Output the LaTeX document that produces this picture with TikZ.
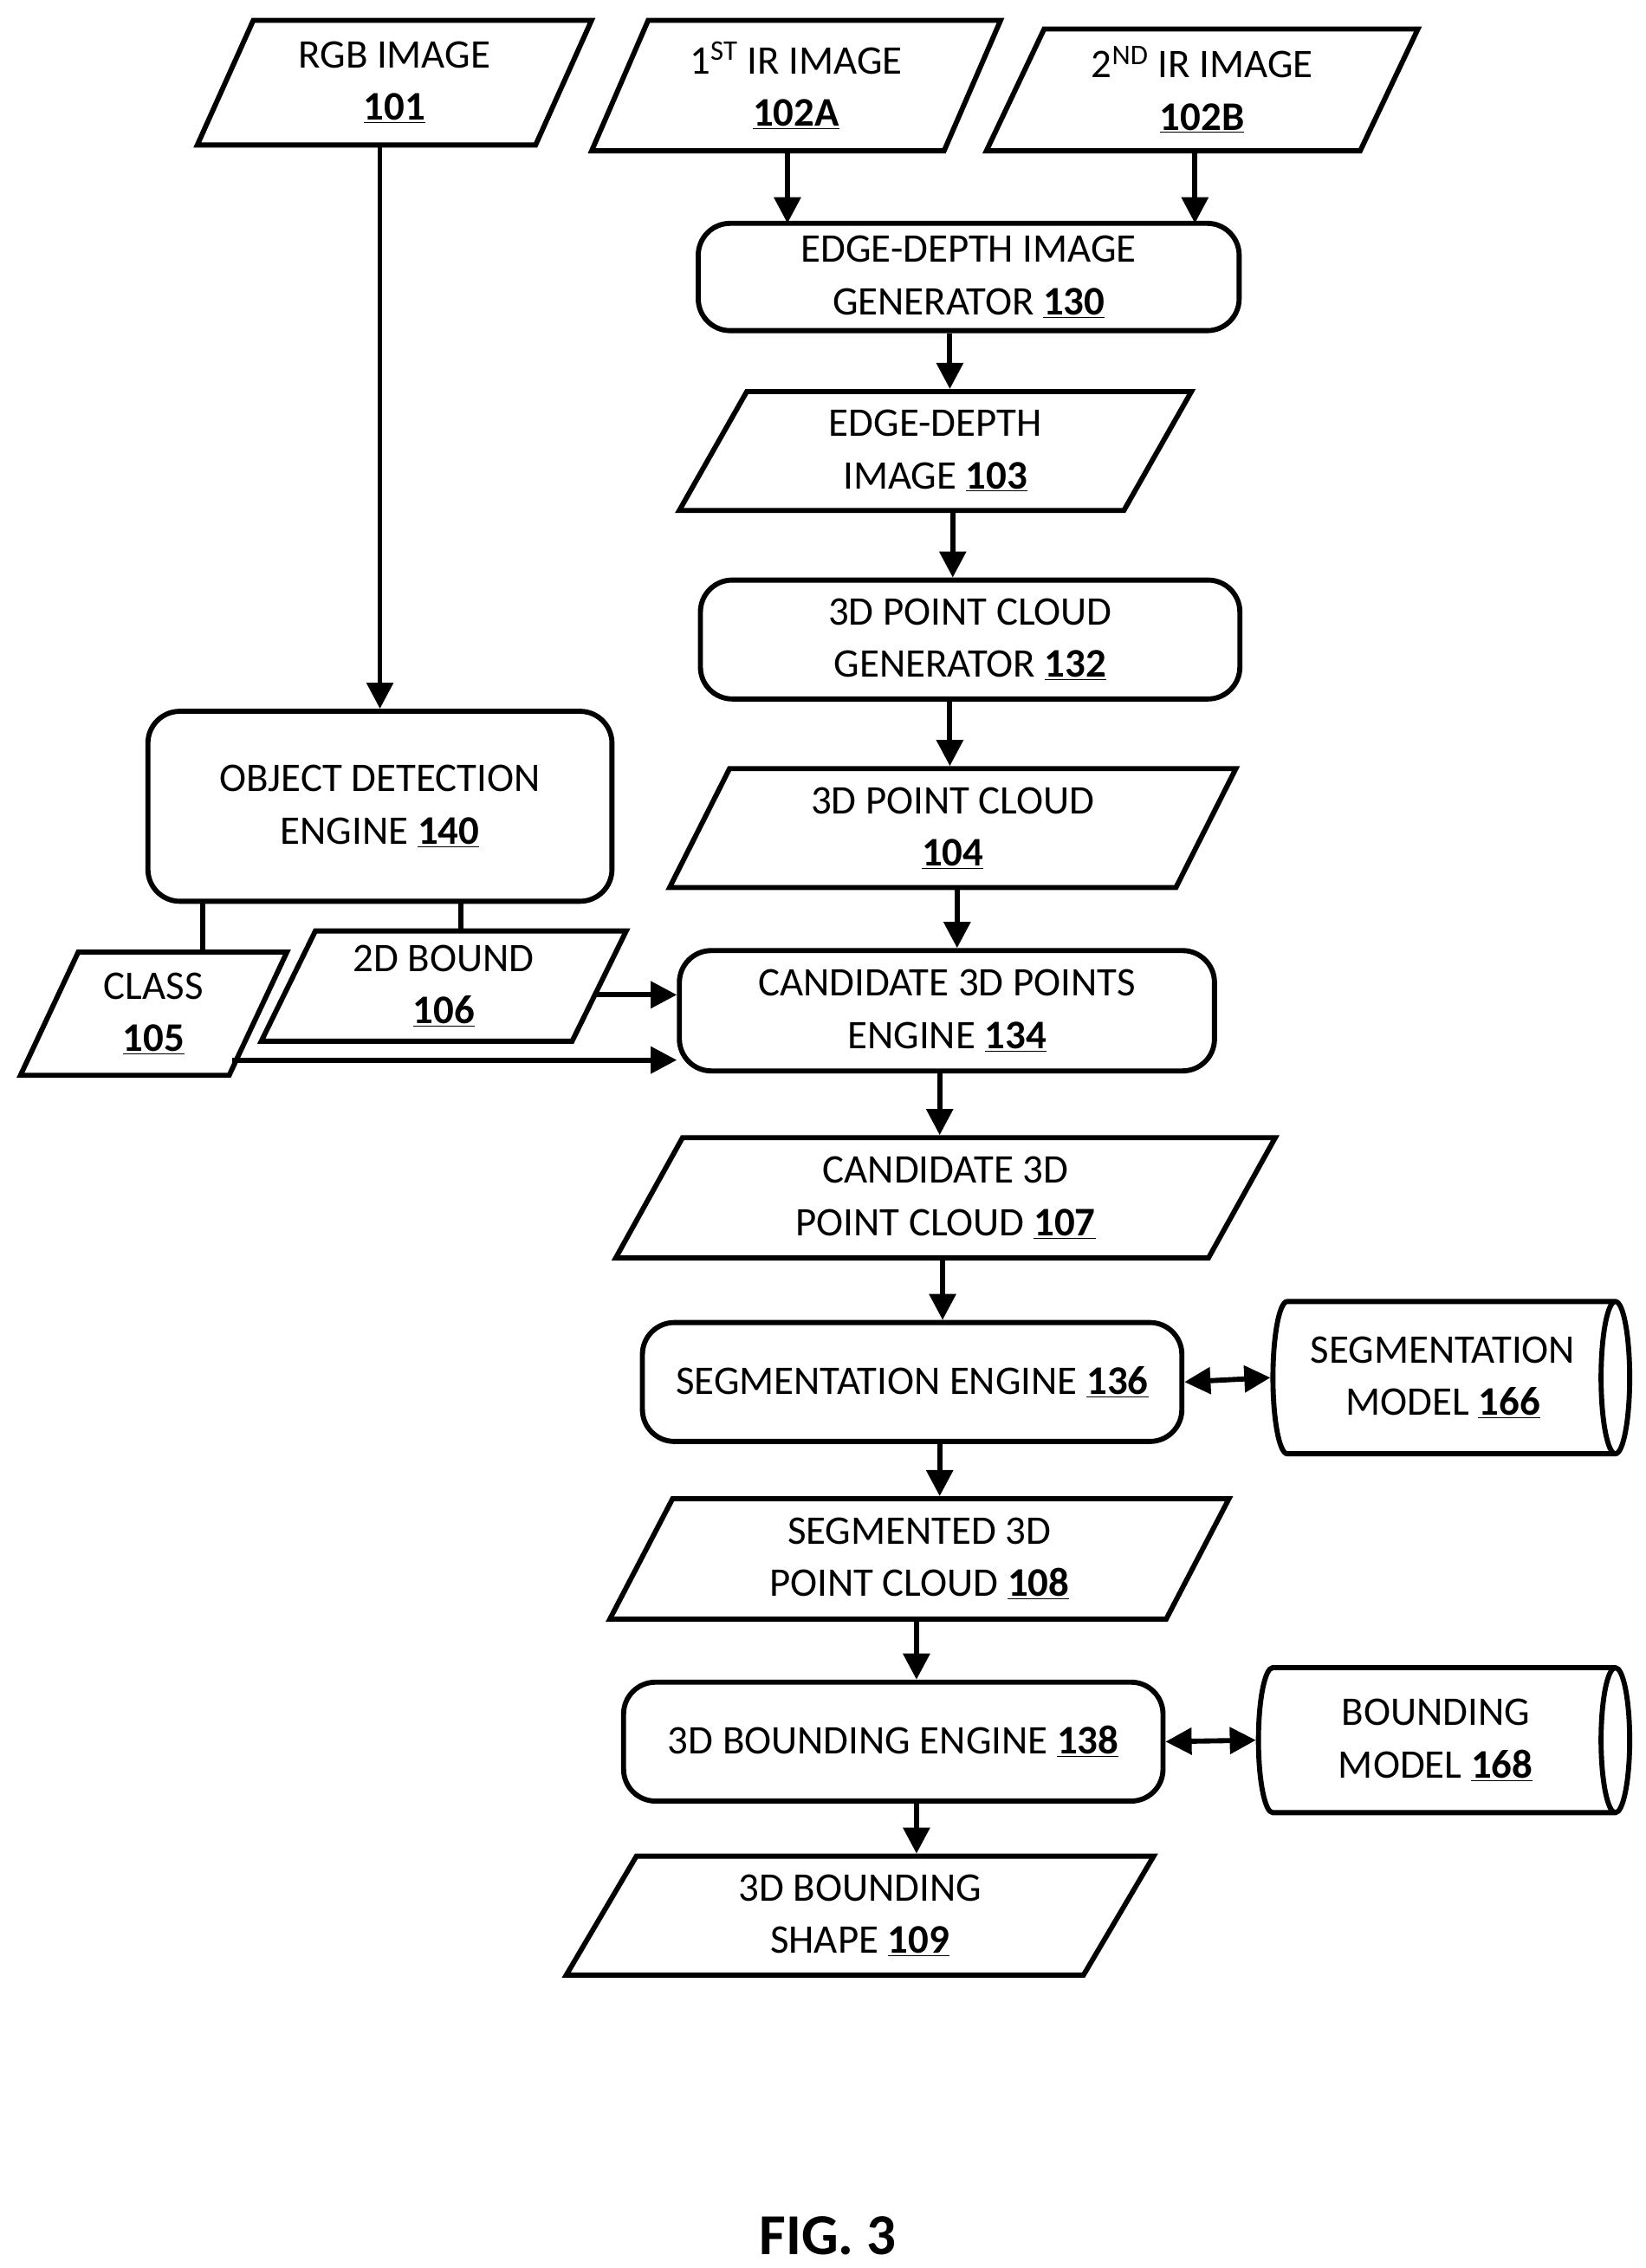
\documentclass[tikz,border=0pt]{standalone}
\usepackage{fontspec}
\setmainfont{Carlito}
\usepackage{tikz}
\usetikzlibrary{arrows.meta}
\usetikzlibrary{shapes.geometric}
\usetikzlibrary{positioning}
\newcommand{\refnum}[1]{\underline{\textbf{#1}}}
\tikzset{
  base/.style={draw, line width=3.5pt, align=center, inner sep=0pt,
    font=\fontsize{28}{36}\selectfont},
  data/.style={base, trapezium, trapezium left angle=65, trapezium right angle=115,
    trapezium stretches=true},
  proc/.style={base, rectangle, rounded corners=22pt},
  store/.style={base, cylinder, aspect=0.35, shape aspect=0.35},
  flow/.style={line width=3.5pt, -{Triangle[length=18pt,width=18pt]}},
  both/.style={line width=3.5pt, {Triangle[length=18pt,width=18pt]}-{Triangle[length=18pt,width=18pt]}},
  link/.style={line width=3.5pt}
}
\begin{document}
\begin{tikzpicture}[x=1pt,y=-1pt]
\useasboundingbox (0,0) rectangle (1135,1564);
% inputs
\node[data, minimum width=272, minimum height=86] (n101) at (272,57) {RGB IMAGE\\\refnum{101}};
\node[data, minimum width=282, minimum height=90] (n102a) at (549,59) {1\textsuperscript{ST} IR IMAGE\\\refnum{102A}};
\node[data, minimum width=298, minimum height=84] (n102b) at (829,62) {2\textsuperscript{ND} IR IMAGE\\\refnum{102B}};
% main chain
\node[proc, minimum width=373, minimum height=74] (n130) at (668,191) {EDGE-DEPTH IMAGE\\GENERATOR \refnum{130}};
\node[data, minimum width=354, minimum height=82] (n103) at (645,311) {EDGE-DEPTH\\IMAGE \refnum{103}};
\node[proc, minimum width=372, minimum height=82] (n132) at (669,441) {3D POINT CLOUD\\GENERATOR \refnum{132}};
\node[data, minimum width=392, minimum height=82] (n104) at (657,571) {3D POINT CLOUD\\\refnum{104}};
\node[proc, minimum width=320, minimum height=131] (n140) at (262,556) {OBJECT DETECTION\\ENGINE \refnum{140}};
\node[data, minimum width=184, minimum height=85] (n105) at (106,699) {CLASS\\\refnum{105}};
\node[data, minimum width=252, minimum height=76] (n106) at (306,680) {2D BOUND\\\refnum{106}};
\node[proc, minimum width=369, minimum height=83] (n134) at (653,697) {CANDIDATE 3D POINTS\\ENGINE \refnum{134}};
\node[data, minimum width=456, minimum height=83] (n107) at (652,826) {CANDIDATE 3D\\POINT CLOUD \refnum{107}};
\node[proc, minimum width=372, minimum height=82] (n136) at (629,953) {SEGMENTATION ENGINE \refnum{136}};
\node[store, minimum width=105, minimum height=246] (n166) at (995,950) {SEGMENTATION\\MODEL \refnum{166}};
\node[data, minimum width=428, minimum height=83] (n108) at (634,1075) {SEGMENTED 3D\\POINT CLOUD \refnum{108}};
\node[proc, minimum width=372, minimum height=82] (n138) at (616,1201) {3D BOUNDING ENGINE \refnum{138}};
\node[store, minimum width=100, minimum height=256] (n168) at (990,1200) {BOUNDING\\MODEL \refnum{168}};
\node[data, minimum width=406, minimum height=82] (n109) at (593,1321) {3D BOUNDING\\SHAPE \refnum{109}};
\node[font=\fontsize{40}{44}\selectfont\bfseries] (fig) at (571,1542) {FIG. 3};
% connectors
\draw[flow] (n101.south -| n140.north) -- (n140.north);
\draw[flow] (543,104) -- (543,154);
\draw[flow] (824,104) -- (824,154);
\draw[flow] (n130.south -| 655,0) -- (n103.north -| 655,0);
\draw[flow] (n103.south -| 657,0) -- (n132.north -| 657,0);
\draw[flow] (n132.south -| 655,0) -- (n104.north -| 655,0);
\draw[flow] (n104.south -| 660,0) -- (n134.north -| 660,0);
\draw[flow] (n134.south -| 648,0) -- (n107.north -| 648,0);
\draw[flow] (n107.south -| 650,0) -- (n136.north -| 650,0);
\draw[both] (n136.east) -- (n166.west);
\draw[flow] (n136.south -| 648,0) -- (n108.north -| 648,0);
\draw[flow] (n108.south -| 632,0) -- (n138.north -| 632,0);
\draw[both] (n138.east) -- (n168.west);
\draw[flow] (n138.south -| 632,0) -- (n109.north -| 632,0);
\draw[link] (n140.south -| 140,0) -- (n105.north -| 140,0);
\draw[link] (n140.south -| 318,0) -- (n106.north -| 318,0);
\draw[flow] (410,686) -- (n134.west |- 0,686);
\draw[flow] (160,731) -- (n134.west |- 0,731);
\end{tikzpicture}
\end{document}
